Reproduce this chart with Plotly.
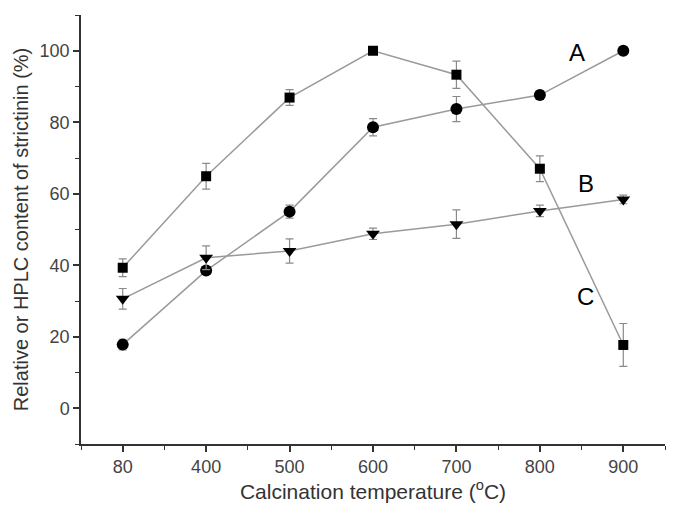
import plotly.graph_objects as go

temps = ["80", "400", "500", "600", "700", "800", "900"]
a_vals = [17.8, 38.5, 55.0, 78.6, 83.7, 87.6, 100.0]
a_err = [1.5, 1.0, 1.8, 2.4, 3.5, 1.2, 0.0]
b_vals = [30.6, 42.1, 44.0, 48.8, 51.5, 55.2, 58.4]
b_err = [2.9, 3.3, 3.4, 1.6, 4.0, 1.6, 1.2]
c_vals = [39.3, 64.9, 86.9, 100.0, 93.3, 67.0, 17.7]
c_err = [2.5, 3.6, 2.2, 0.0, 3.8, 3.6, 6.0]
series_labels = ["A", "B", "C"]

xs = list(range(len(temps)))
line_col = "#9a9a9a"
err_col = "#8a8a8a"

fig = go.Figure()

def add(vals, errs, symbol, size):
    fig.add_trace(go.Scatter(
        x=xs, y=vals, mode="lines+markers",
        line=dict(color=line_col, width=1.5),
        marker=dict(symbol=symbol, size=size, color="black"),
        error_y=dict(type="data", array=errs, visible=True, color=err_col,
                     thickness=1.2, width=4),
        showlegend=False,
    ))

add(a_vals, a_err, "circle", 12)
add(b_vals, b_err, "triangle-down", 12)
add(c_vals, c_err, "square", 10)

label_pos = [(5.45, 99.5), (5.55, 62.9), (5.55, 31.2)]
for lab, (lx, ly) in zip(series_labels, label_pos):
    fig.add_annotation(x=lx, y=ly, text=lab, showarrow=False,
                       font=dict(size=24, color="black", family="Liberation Sans, Arial"))

fig.update_layout(
    width=679, height=519,
    margin=dict(l=81, r=14, t=15, b=75),
    plot_bgcolor="white", paper_bgcolor="white",
    font=dict(family="Liberation Sans, Arial, sans-serif", color="#333"),
)
fig.update_xaxes(
    range=[-0.5, len(temps) - 0.5],
    tickvals=xs, ticktext=temps,
    showline=True, linecolor="#333", linewidth=1.5,
    ticks="outside", ticklen=6, tickwidth=1.5, tickcolor="#333",
    minor=dict(ticks="outside", ticklen=4, tickwidth=1.2, tickcolor="#333", dtick=0.5, tick0=-0.5),
    showgrid=False, zeroline=False, automargin=False,
    tickfont=dict(size=18, color="#444"),
    title=dict(text="Calcination temperature (<sup>o</sup>C)", font=dict(size=21, color="#333"), standoff=6),
)
fig.update_yaxes(
    range=[-10, 110],
    tickvals=[0, 20, 40, 60, 80, 100],
    showline=True, linecolor="#333", linewidth=1.5,
    ticks="outside", ticklen=6, tickwidth=1.5, tickcolor="#333",
    minor=dict(ticks="outside", ticklen=4, tickwidth=1.2, tickcolor="#333", dtick=10, tick0=-10),
    showgrid=False, zeroline=False, automargin=False,
    tickfont=dict(size=18, color="#444"),
    title=dict(text="Relative or HPLC content of strictinin (%)", font=dict(size=20, color="#333"), standoff=6),
)

fig.write_html("out.html", config={"displayModeBar": False})
with open("out.html", "r", encoding="utf-8") as f:
    html = f.read()
html = html.replace("<body>", '<body style="margin:0;padding:0">', 1)
with open("out.html", "w", encoding="utf-8") as f:
    f.write(html)
